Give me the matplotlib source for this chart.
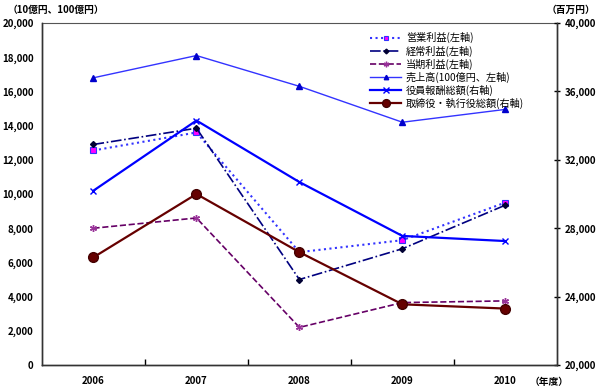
import numpy as np
import matplotlib.pyplot as plt

plt.rcParams['font.family'] = ['Noto Sans CJK JP', 'DejaVu Sans']

years = ['2006', '2007', '2008', '2009', '2010']
op_profit = [12550, 13600, 6600, 7300, 9500]      # 営業利益（左軸）
ord_profit = [12900, 13850, 5000, 6800, 9350]     # 経常利益（左軸）
net_profit = [8000, 8600, 2200, 3650, 3750]       # 当期利益（左軸）
sales = [16800, 18100, 16300, 14200, 14950]       # 売上高（100億円、左軸）
exec_pay = [30200, 34300, 30700, 27550, 27250]    # 役員報酬総額（右軸）
board_pay = [26300, 30000, 26600, 23550, 23300]   # 取締役・執行役総額（右軸）

x = np.arange(len(years))

fig = plt.figure(figsize=(6, 3.91), dpi=100)
ax = fig.add_axes([0.07, 0.0665, 0.858, 0.8745])
ax2 = ax.twinx()

l1, = ax.plot(x, op_profit, color='#3333ff', ls=':', lw=1.5, marker='s', ms=4,
              mfc='#ff00ff', mec='#3333ff', mew=0.8, label='営業利益(左軸)')
l2, = ax.plot(x, ord_profit, color='#000080', ls='-.', lw=1.2, marker='D', ms=3,
              mfc='#000033', mec='#000033', label='経常利益(左軸)')
l3, = ax.plot(x, net_profit, color='#660066', ls='--', lw=1.2, marker=(6, 2, 0), ms=5,
              mec='#993399', label='当期利益(左軸)')
l4, = ax.plot(x, sales, color='#3333ff', ls='-', lw=1.0, marker='^', ms=4,
              mfc='#0000cc', mec='#0000cc', label='売上高(100億円、左軸)')
l5, = ax2.plot(x, exec_pay, color='#0000ff', ls='-', lw=1.6, marker='x', ms=5,
               mew=1.0, label='役員報酬総額(右軸)')
l6, = ax2.plot(x, board_pay, color='#660000', ls='-', lw=1.6, marker='o', ms=7,
               mfc='#660000', mec='#440000', label='取締役・執行役総額(右軸)')

ax.set_xlim(-0.5, 4.5)
ax.set_ylim(0, 20000)
ax2.set_ylim(20000, 40000)
ax.set_yticks(np.arange(0, 20001, 2000))
ax2.set_yticks(np.arange(20000, 40001, 4000))
ax.yaxis.set_major_formatter(plt.FuncFormatter(lambda v, p: f'{int(v):,}'))
ax2.yaxis.set_major_formatter(plt.FuncFormatter(lambda v, p: f'{int(v):,}'))

ax.set_xticks(x)
ax.set_xticklabels(years)
ax.set_xticks(np.arange(0.5, 4.5, 1), minor=True)
ax.tick_params(axis='x', which='major', length=0, pad=8, labelsize=7)
ax.tick_params(axis='x', which='minor', length=4, direction='in', width=1.0)
ax.tick_params(axis='y', length=0, pad=6, labelsize=7)
ax2.tick_params(axis='y', length=4, direction='inout', width=1.0, pad=4, labelsize=7)
for lab in ax.get_xticklabels() + ax.get_yticklabels() + ax2.get_yticklabels():
    lab.set_fontweight('bold')

for a in (ax, ax2):
    for s in a.spines.values():
        s.set_linewidth(1.0)
        s.set_color('#333333')
ax2.spines['top'].set_visible(False)
ax.spines['top'].set_color('#555555')
ax.spines['top'].set_linewidth(0.8)

fig.text(0.012, 0.975, '（10億円、100億円）', fontsize=7, fontweight='bold', va='center')
fig.text(0.992, 0.975, '（百万円）', fontsize=7, fontweight='bold', va='center', ha='right')
fig.text(0.882, 0.022, '（年度）', fontsize=7, fontweight='bold', va='center')

ax.legend(handles=[l1, l2, l3, l4, l5, l6], loc='upper left',
          bbox_to_anchor=(0.63, 0.985), frameon=False, fontsize=7.3,
          handlelength=3.0, handletextpad=0.5, labelspacing=0.2, borderaxespad=0,
          markerscale=0.8)

fig.savefig('out.png', dpi=100)
